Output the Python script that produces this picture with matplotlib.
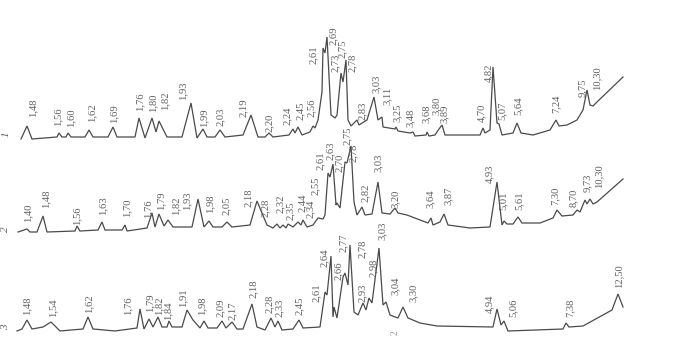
import matplotlib.pyplot as plt

t1_x = [21, 27, 32, 57, 59, 62, 66, 68, 71, 85, 89, 93, 108, 113, 117, 135, 139, 145, 152, 156,
        159, 167, 182, 191, 197, 203, 207, 215, 220, 225, 243, 251, 258, 265, 269, 273, 289, 293,
        295, 298, 302, 310, 313, 315, 318, 322, 323, 325, 327, 331, 335, 337, 341, 343, 346, 348,
        351, 357, 359, 367, 374, 378, 382, 383, 395, 396, 398, 410, 413, 415, 426, 427, 429, 435,
        439, 442, 445, 480, 483, 485, 490, 493, 497, 499, 502, 513, 517, 521, 533, 550, 556, 559,
        567, 577, 583, 587, 590, 593, 597, 623]
t1_h = [1, 14, 1, 3, 7, 3, 3, 7, 3, 3, 10, 3, 3, 13, 3, 3, 22, 2, 22, 8,
        19, 3, 3, 37, 2, 11, 3, 3, 10, 3, 5, 25, 3, 3, 7, 3, 5, 11,
        7, 13, 5, 8, 14, 12, 20, 48, 92, 87, 103, 25, 22, 25, 67, 58, 80, 20,
        14, 20, 15, 20, 43, 20, 23, 13, 11, 13, 9, 7, 8, 4, 5, 8, 4, 5,
        11, 15, 5, 5, 12, 7, 10, 73, 17, 16, 5, 7, 17, 7, 5, 10, 20, 14,
        15, 20, 30, 50, 35, 34, 38, 63]

t2_x = [18, 27, 30, 37, 43, 47, 75, 77, 80, 98, 102, 105, 122, 125, 127, 147, 152, 155, 159, 164,
        168, 173, 192, 198, 204, 209, 213, 222, 227, 232, 250, 257, 267, 273, 277, 280, 283, 286,
        288, 293, 298, 301, 303, 307, 313, 318, 323, 325, 328, 330, 333, 336, 337, 340, 345, 347,
        351, 354, 357, 362, 365, 372, 378, 382, 390, 395, 398, 407, 428, 431, 433, 440, 444, 448,
        470, 490, 497, 502, 504, 507, 513, 518, 522, 540, 553, 557, 562, 573, 577, 580, 585, 587,
        590, 593, 597, 623]
t2_h = [3, 6, 3, 3, 19, 3, 4, 9, 4, 5, 13, 5, 5, 10, 4, 7, 22, 8, 21, 9,
        15, 8, 8, 36, 8, 14, 8, 8, 13, 8, 10, 34, 10, 7, 11, 7, 10, 7,
        11, 8, 13, 10, 15, 8, 10, 17, 16, 20, 62, 58, 71, 30, 32, 27, 73, 72,
        89, 33, 20, 28, 20, 21, 53, 22, 21, 27, 22, 20, 12, 17, 10, 13, 21, 10,
        7, 8, 53, 10, 14, 11, 11, 18, 12, 12, 17, 25, 19, 20, 25, 23, 35, 31,
        36, 31, 33, 56]

t3_x = [17, 22, 27, 32, 43, 51, 60, 83, 88, 93, 115, 137, 140, 144, 149, 153, 158, 162, 167, 169,
        172, 182, 187, 193, 200, 204, 208, 217, 222, 226, 232, 237, 243, 252, 257, 265, 271, 275,
        278, 282, 293, 299, 303, 320, 325, 327, 331, 333, 334, 337, 343, 345, 348, 350, 354, 358,
        363, 366, 369, 372, 379, 383, 386, 390, 398, 403, 408, 420, 437, 493, 497, 501, 504, 508,
        563, 566, 569, 583, 612, 618, 623]
t3_h = [2, 4, 13, 4, 6, 11, 2, 4, 16, 4, 2, 5, 24, 4, 14, 6, 16, 6, 6, 12,
        6, 6, 23, 13, 5, 12, 5, 5, 12, 5, 11, 4, 4, 29, 6, 3, 15, 6,
        12, 3, 4, 13, 5, 6, 41, 38, 77, 16, 26, 15, 56, 60, 48, 88, 21, 18,
        30, 23, 35, 30, 85, 28, 31, 18, 15, 26, 15, 10, 7, 6, 24, 8, 12, 2,
        4, 10, 6, 7, 23, 39, 26]

# d-spacing labels (text, position along strip, height of label foot)
l1_txt = ['1,48', '1,56', '1,60', '1,62', '1,69', '1,76', '1,80', '1,82', '1,93', '1,99', '2,03',
          '2,19', '2,20', '2,24', '2,45', '2,56', '2,61', '2,69', '2,73', '2,75', '2,78', '2,83',
          '3,03', '3,11', '3,25', '3,48', '3,68', '3,80', '3,89', '4,70', '4,82', '5,07', '5,64',
          '7,24', '9,75', '10,30']
l1_x = [33, 58, 71, 92, 114, 140, 153, 165, 183, 204, 220, 243, 269, 287, 300, 311, 313, 333,
        335, 342, 352, 362, 376, 387, 397, 410, 426, 436, 444, 482, 489, 502, 518, 556, 582, 597]
l1_h = [23, 14, 13, 18, 17, 29, 28, 30, 40, 13, 14, 23, 8, 15, 20, 23, 76, 95, 68, 82, 68, 20,
        47, 35, 18, 13, 17, 25, 17, 18, 58, 20, 25, 27, 43, 50]

l2_txt = ['1,40', '1,48', '1,56', '1,63', '1,70', '1,76', '1,79', '1,82', '1,93', '1,98', '2,05',
          '2,18', '2,28', '2,32', '2,35', '2,44', '2,34', '2,55', '2,61', '2,63', '2,70', '2,75',
          '2,78', '2,82', '3,03', '3,20', '3,64', '3,87', '4,93', '5,01', '5,61', '7,30', '8,70',
          '9,73', '10,30']
l2_x = [28, 46, 77, 103, 127, 148, 161, 176, 187, 210, 226, 248, 265, 280, 290, 302, 310, 315,
        320, 330, 339, 347, 353, 365, 378, 395, 430, 448, 490, 503, 519, 555, 573, 587, 599]
l2_h = [13, 27, 10, 20, 18, 17, 25, 20, 25, 22, 20, 28, 18, 22, 15, 23, 17, 40, 65, 75, 63, 90,
        73, 33, 63, 27, 27, 30, 52, 25, 25, 30, 28, 43, 47]

l3_txt = ['1,48', '1,54', '1,62', '1,76', '1,79', '1,82', '1,84', '1,91', '1,98', '2,09', '2,17',
          '2,18', '2,28', '2,33', '2,45', '2,61', '2,64', '2,66', '2,77', '2,78', '2,93', '2,98',
          '3,03', '3,04', '3,30', '4,94', '5,06', '7,38', '12,50']
l3_x = [27, 53, 89, 128, 150, 159, 168, 183, 202, 220, 232, 253, 269, 279, 299, 316, 324, 338,
        343, 362, 362, 373, 382, 395, 413, 490, 513, 570, 619]
l3_h = [18, 16, 20, 18, 21, 18, 13, 26, 18, 16, 13, 35, 20, 16, 18, 31, 66, 53, 81, 75, 31, 56,
        93, 38, 31, 20, 16, 16, 45]

names = ['1', '2', '3']
offsets = [216, 121, 23]
INK = '#4a4a4a'
TXT = '#5e5e5e'

fig = plt.figure(figsize=(6.78, 3.56), dpi=100)
ax = fig.add_axes([0, 0, 1, 1])
ax.set_xlim(0, 678)
ax.set_ylim(0, 356)
ax.axis('off')

traces = [(t1_x, t1_h, l1_txt, l1_x, l1_h),
          (t2_x, t2_h, l2_txt, l2_x, l2_h),
          (t3_x, t3_h, l3_txt, l3_x, l3_h)]

for (tx, th, ltxt, lx, lh), name, off in zip(traces, names, offsets):
    ax.plot(tx, [h + off for h in th], color=INK, lw=0.9, solid_joinstyle='miter')
    for s, x, h in zip(ltxt, lx, lh):
        ax.text(x, h + off, s, rotation=90, ha='center', va='bottom',
                fontsize=7.6, family='Liberation Serif', color=TXT)
    ax.text(6, off + 6, name, rotation=90, ha='center', va='center',
            fontsize=8, family='Liberation Serif', style='italic', color=TXT)

# stray mark from the scanned page
ax.text(395, 23, '2', rotation=90, ha='center', va='center',
        fontsize=7, family='Liberation Serif', color='#999999')

fig.savefig('out.png', dpi=100, facecolor='white')
